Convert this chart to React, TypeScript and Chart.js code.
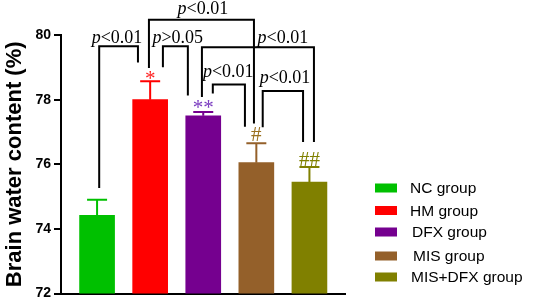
import React, { useEffect, useRef } from "react";
import { Chart, registerables } from "chart.js";

Chart.register(...registerables);

const categories = ["NC group", "HM group", "DFX group", "MIS group", "MIS+DFX group"];
const means = [74.42, 78.0, 77.5, 76.05, 75.45];
const errors = [0.48, 0.57, 0.12, 0.6, 0.47];
const barColors = ["#00c000", "#ff0000", "#75008f", "#94602a", "#808000"];
const markLabels = ["", "*", "**", "#", "##"];
const markColors = ["#000000", "#ff2020", "#7a3cc0", "#9a7020", "#808000"];
const markY = [0, 78.75, 77.86, 76.93, 76.16];
const yTicks = [72, 74, 76, 78, 80];

// brackets in data space: x1/x2 leg positions, top level, leg bottoms, label position
const bracketX1 = [1.04, 1.977, 2.24, 2.975, 3.18, 4.12];
const bracketX2 = [1.77, 3.955, 2.71, 5.085, 3.785, 4.88];
const bracketTop = [79.65, 80.47, 79.65, 79.62, 78.47, 78.27];
const bracketB1 = [75.27, 78.98, 79.0, 78.08, 78.19, 77.15];
const bracketB2 = [79.15, 77.26, 78.13, 76.69, 77.16, 76.69];
const bracketText = ["<0.01", "<0.01", ">0.05", "<0.01", "<0.01", "<0.01"];
const bracketLabelX = [1.375, 2.994, 2.52, 4.5, 3.47, 4.54];
const bracketLabelY = [79.74, 80.65, 79.74, 79.74, 78.7, 78.5];

const annotationPlugin = {
  id: "annotations",
  afterDatasetsDraw(chart: any) {
    const ctx = chart.ctx;
    const xs = chart.scales.x;
    const ys = chart.scales.y;
    ctx.save();
    // error bars
    means.forEach((m, i) => {
      const cx = xs.getPixelForValue(i + 1);
      const y0 = ys.getPixelForValue(m);
      const y1 = ys.getPixelForValue(m + errors[i]);
      ctx.strokeStyle = barColors[i];
      ctx.lineWidth = 2;
      ctx.beginPath();
      ctx.moveTo(cx, y0);
      ctx.lineTo(cx, y1);
      ctx.moveTo(cx - 10, y1);
      ctx.lineTo(cx + 10, y1);
      ctx.stroke();
    });
    ctx.restore();
  },
  afterDraw(chart: any) {
    const ctx = chart.ctx;
    const xs = chart.scales.x;
    const ys = chart.scales.y;
    ctx.save();
    // brackets
    ctx.strokeStyle = "#000";
    ctx.lineWidth = 2;
    bracketX1.forEach((x1, i) => {
      const px1 = xs.getPixelForValue(x1);
      const px2 = xs.getPixelForValue(bracketX2[i]);
      const pt = ys.getPixelForValue(bracketTop[i]);
      ctx.beginPath();
      ctx.moveTo(px1, ys.getPixelForValue(bracketB1[i]));
      ctx.lineTo(px1, pt);
      ctx.lineTo(px2, pt);
      ctx.lineTo(px2, ys.getPixelForValue(bracketB2[i]));
      ctx.stroke();
      // label: italic p + regular text
      const fontI = "italic 18px 'Liberation Serif', 'Times New Roman', serif";
      const fontR = "18px 'Liberation Serif', 'Times New Roman', serif";
      ctx.font = fontI;
      const wp = ctx.measureText("p").width;
      ctx.font = fontR;
      const wt = ctx.measureText(bracketText[i]).width;
      const lx = xs.getPixelForValue(bracketLabelX[i]) - (wp + wt) / 2;
      const ly = ys.getPixelForValue(bracketLabelY[i]);
      ctx.fillStyle = "#000";
      ctx.textAlign = "left";
      ctx.textBaseline = "alphabetic";
      ctx.font = fontI;
      ctx.fillText("p", lx, ly);
      ctx.font = fontR;
      ctx.fillText(bracketText[i], lx + wp, ly);
    });
    // significance marks
    markLabels.forEach((t, i) => {
      if (!t) return;
      ctx.font = "21px 'Liberation Serif', 'Times New Roman', serif";
      ctx.fillStyle = markColors[i];
      ctx.textAlign = "center";
      ctx.textBaseline = "alphabetic";
      const m = ctx.measureText(t);
      const cy = ys.getPixelForValue(markY[i]);
      const base = cy + (m.actualBoundingBoxAscent - m.actualBoundingBoxDescent) / 2;
      ctx.fillText(t, xs.getPixelForValue(i + 1), base);
    });
    // legend
    const legendY = [188, 210.5, 232, 256, 277];
    const legendTextX = [410, 410, 412, 413, 411];
    categories.forEach((c, i) => {
      ctx.fillStyle = barColors[i];
      ctx.fillRect(375, legendY[i] - 4.5, 22, 9);
      ctx.fillStyle = "#000";
      ctx.font = "15.5px 'Liberation Sans', Arial, sans-serif";
      ctx.textAlign = "left";
      ctx.textBaseline = "middle";
      ctx.fillText(c, legendTextX[i], legendY[i] + 1);
    });
    ctx.restore();
  },
};

export default function App() {
  const ref = useRef<HTMLCanvasElement | null>(null);
  useEffect(() => {
    document.body.style.margin = "0";
    if (!ref.current) return;
    const chart = new Chart(ref.current, {
      type: "bar",
      data: {
        datasets: [
          {
            data: means.map((m, i) => ({ x: i + 1, y: m })),
            backgroundColor: barColors,
            borderWidth: 0,
            barThickness: 35,
          },
        ],
      },
      plugins: [annotationPlugin],
      options: {
        responsive: false,
        animation: false,
        layout: { padding: { top: 35, bottom: 3, right: 191, left: 0 } },
        plugins: { legend: { display: false }, tooltip: { enabled: false } },
        scales: {
          x: {
            type: "linear",
            min: 0.32,
            max: 5.67,
            offset: false,
            ticks: { display: false },
            grid: { display: false },
            border: { display: true, color: "#000", width: 2 },
          },
          y: {
            min: 72,
            max: 80,
            afterBuildTicks: (axis: any) => {
              axis.ticks = yTicks.map((v) => ({ value: v }));
            },
            ticks: {
              color: "#000",
              padding: 3,
              font: { family: "'Liberation Sans', Arial, sans-serif", size: 14, weight: "bold" },
            },
            grid: { drawOnChartArea: false, drawTicks: true, tickLength: 7, color: "#000", lineWidth: 2 },
            border: { display: true, color: "#000", width: 2 },
            title: {
              display: true,
              text: "Brain water content (%)",
              color: "#000",
              padding: { top: 2, bottom: 4 },
              font: { family: "'Liberation Sans', Arial, sans-serif", size: 22, weight: "bold" },
            },
          },
        },
      },
    } as any);
    return () => chart.destroy();
  }, []);
  return <canvas ref={ref} width={536} height={305} style={{ display: "block" }} />;
}
